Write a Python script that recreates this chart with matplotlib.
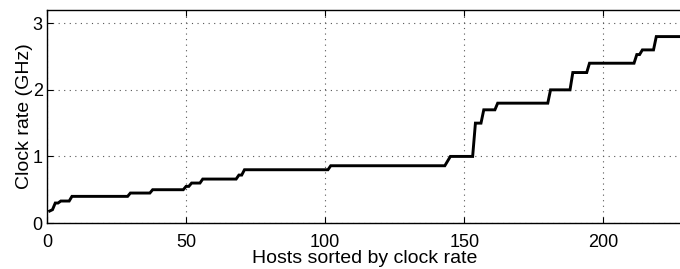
import numpy as np
import matplotlib
matplotlib.use("Agg")
import matplotlib.pyplot as plt

# clock rate steps: first host index of each step and its rate (GHz)
step_start = [1, 2, 3, 5, 9, 30, 38, 50, 52, 56, 69, 71, 102, 144, 145,
              154, 157, 162, 181, 189, 195, 212, 214, 219]
step_rate = [0.18, 0.20, 0.30, 0.33, 0.40, 0.45, 0.50, 0.55, 0.60, 0.66, 0.72, 0.80, 0.86, 0.93, 1.00,
             1.50, 1.70, 1.80, 2.00, 2.26, 2.40, 2.53, 2.60, 2.80]
n_hosts = 227

xticks = [0, 50, 100, 150, 200]
yticks = [0, 1, 2, 3]

counts = np.diff(step_start + [n_hosts + 1])
rates = np.repeat(step_rate, counts)
hosts = np.arange(1, n_hosts + 1)

plt.rcParams['font.family'] = ['Liberation Sans', 'DejaVu Sans']

fig = plt.figure(figsize=(6.8, 2.69), dpi=100)
ax = fig.add_axes([0.069, 0.171, 0.935, 0.792])

ax.plot(hosts, rates, color='black', lw=2.1, solid_joinstyle='miter')

ax.set_xlim(0, 228.5)
ax.set_ylim(0, 3.2)
ax.set_xticks(xticks)
ax.set_yticks(yticks)
ax.grid(True, linestyle=(0, (1, 4)), color='#555555', lw=0.8)
ax.tick_params(direction='in', top=True, right=False, length=4, labelsize=13)
ax.tick_params(axis='x', pad=8)
ax.tick_params(axis='y', pad=3)
ax.spines['right'].set_visible(False)
for s in ['left', 'bottom', 'top']:
    ax.spines[s].set_linewidth(1.0)

ax.set_xlabel("Hosts sorted by clock rate", fontsize=14)
ax.xaxis.set_label_coords(0.5, -0.128)
ax.set_ylabel("Clock rate (GHz)", fontsize=14, labelpad=0)

fig.savefig("out.png", dpi=100)
